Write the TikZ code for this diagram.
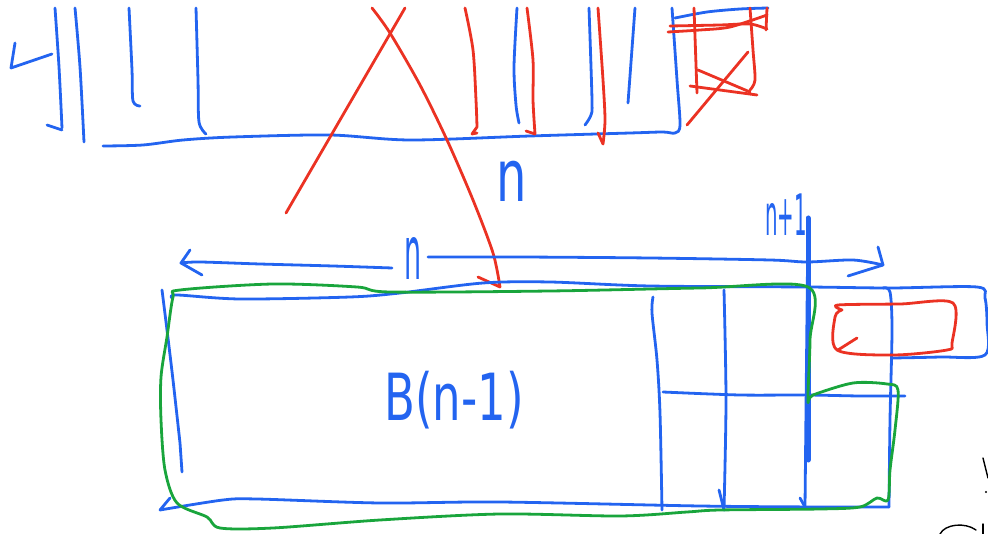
\documentclass[tikz,border=0pt]{standalone}
\usepackage{fontspec}
\setmainfont{DejaVu Sans}
\definecolor{penblue}{RGB}{35,100,240}
\definecolor{penred}{RGB}{235,50,35}
\definecolor{pengreen}{RGB}{25,165,60}

\begin{document}
\begin{tikzpicture}[x=1pt, y=-1pt,
    pen/.style={line width=2.8pt, line cap=round, line join=round},
    blueline/.style={pen, draw=penblue},
    redline/.style={pen, draw=penred},
    greenline/.style={pen, draw=pengreen},
    inkline/.style={line width=1.4pt, line cap=round, draw=black},
    hand/.style={text=penblue, inner sep=0pt, font=\fontsize{60}{60}\selectfont}
]
    \useasboundingbox (0,0) rectangle (988,534);

    % Upper strip: columns and base line
    \draw[blueline] (15,43) -- (11,68) -- (52,54);
    \draw[blueline] plot[smooth] coordinates {(55,8) (59,67) (62,128)};
    \draw[blueline] (47,125) -- (62,130);
    \draw[blueline] plot[smooth] coordinates {(75,8) (80,67) (84,142)};
    \draw[blueline] plot[smooth] coordinates {(129,8) (132,70) (133,101) (140,106)};
    \draw[blueline] plot[smooth] coordinates {(196,8) (198,80) (199,122) (206,134)};
    \draw[blueline] plot[smooth] coordinates {(103,146) (143,145) (183,140) (233,137) (330,135)
        (410,140) (530,136) (630,133) (663,132) (675,133) (680,125) (677,80) (672,8)};
    \draw[blueline] plot[smooth] coordinates {(517,8) (514,67) (516,105) (519,123)};
    \draw[blueline] plot[smooth] coordinates {(589,8) (592,100) (591,115) (585,125)};
    \draw[blueline] (635,8) -- (628,103);

    % red columns
    \draw[redline] plot[smooth] coordinates {(465,8) (473,50) (476,100) (477,127)} -- (472,134) -- (477,133);
    \draw[redline] plot[smooth] coordinates {(527,8) (533,60) (533,100) (535,134)} -- (526,131);
    \draw[redline] plot[smooth] coordinates {(598,8) (603,80) (605,120) (603,144)} -- (598,133);

    % red cross, one leg bent down into the block below
    \draw[redline] (286,213) -- (405,8);
    \draw[redline] plot[smooth] coordinates {(372,8) (390,33) (420,85) (447,140) (473,200)
        (493,253) (500,287)} -- (478,277);

    % scribbled cell, top right
    \draw[blueline] plot[smooth] coordinates {(675,18) (707,12) (740,9) (768,8)};
    \draw[redline] plot[smooth] coordinates {(670,26) (720,25) (750,24) (767,29)};
    \draw[redline] plot[smooth] coordinates {(668,32) (700,30) (730,27) (767,15)};
    \draw[redline] (767,8) -- (766,30);
    \draw[redline] (694,8) -- (697,93);
    \draw[redline] plot[smooth] coordinates {(750,8) (753,50) (755,80) (750,90)};
    \draw[redline] (690,86) -- (757,95);
    \draw[redline] (698,70) -- (750,92);
    \draw[redline] (687,125) -- (748,52);

    \node[hand] (ntop) at (512,181) {\scalebox{0.8}[1.2]{n}};

    % Width arrows over the lower block
    \node[hand] (nwidth) at (413,258) {\scalebox{0.45}[1.25]{n}};
    \draw[blueline] plot[smooth] coordinates {(392,268) (333,266) (260,264) (200,262) (181,263)};
    \draw[blueline] (190,250) -- (181,263) -- (202,275);
    \draw[blueline] plot[smooth] coordinates {(428,257) (520,257) (650,258) (770,260) (807,262)
        (853,260) (883,265)};
    \draw[blueline] (878,247) -- (883,265) -- (848,276);
    \node[hand, font=\fontsize{44}{44}\selectfont] (nplus) at (786,215) {\scalebox{0.45}[1.3]{n+1}};

    % Lower block
    \draw[blueline] plot[smooth] coordinates {(172,298) (177,295) (240,299) (350,297) (400,293)
        (483,283) (550,282) (650,286) (808,287) (890,288) (977,287) (985,298) (987,323)
        (985,355) (940,357) (893,358)};
    \draw[blueline] plot[smooth] coordinates {(883,288) (890,292) (892,330) (890,420) (889,507)};
    \draw[blueline] plot[smooth] coordinates {(889,507) (820,507) (700,506) (500,502) (380,503)
        (257,499) (223,500) (160,510)} -- (170,498);
    \draw[blueline] plot[smooth] coordinates {(162,290) (167,330) (173,380) (180,443)} -- (182,472);

    % grid on the right part
    \draw[blueline] plot[smooth] coordinates {(653,297) (652,313) (657,360) (660,413) (662,510)};
    \draw[blueline] plot[smooth] coordinates {(724,290) (726,400) (724,510)};
    \draw[blueline] (719,490) -- (724,510);
    \draw[blueline] plot[smooth] coordinates {(663,392) (740,395) (807,395) (860,396) (905,396)};
    \draw[blueline, line width=5pt] (808,218) -- (808,460);
    \draw[blueline] (808,218) -- (805,507);
    \draw[blueline] (800,498) -- (805,507);

    % green outline round B(n-1)
    \draw[greenline] plot[smooth cycle] coordinates {(808,287) (700,288) (550,291) (390,292)
        (357,287) (273,284) (180,290) (173,297) (167,337) (161,377) (161,420) (165,470)
        (177,503) (207,517) (220,528) (273,528) (380,520) (500,514) (620,516) (687,512)
        (720,510) (820,509) (860,507) (877,498) (888,500) (890,470) (895,430) (898,390)
        (887,384) (853,383) (813,395) (808,400) (810,340)};

    % red cell sticking out
    \draw[redline] plot[smooth] coordinates {(842,310) (838,305) (900,304) (953,303) (952,343)
        (947,350) (893,355) (837,350) (835,317) (842,310)};
    \draw[redline] (857,338) -- (838,350);

    \node[hand, font=\fontsize{50}{50}\selectfont] (bfun) at (454,400) {\scalebox{0.9}[1.3]{B(n-1)}};

    % cut-off ink at the corner
    \draw[inkline] (983,458) -- (988,478);
    \fill[black] (986,492) circle (1.2pt);
    \draw[inkline] (940,534) .. controls (945,524) and (965,522) .. (976,530);
    \draw[inkline] (983,524) -- (983,534);
\end{tikzpicture}
\end{document}
